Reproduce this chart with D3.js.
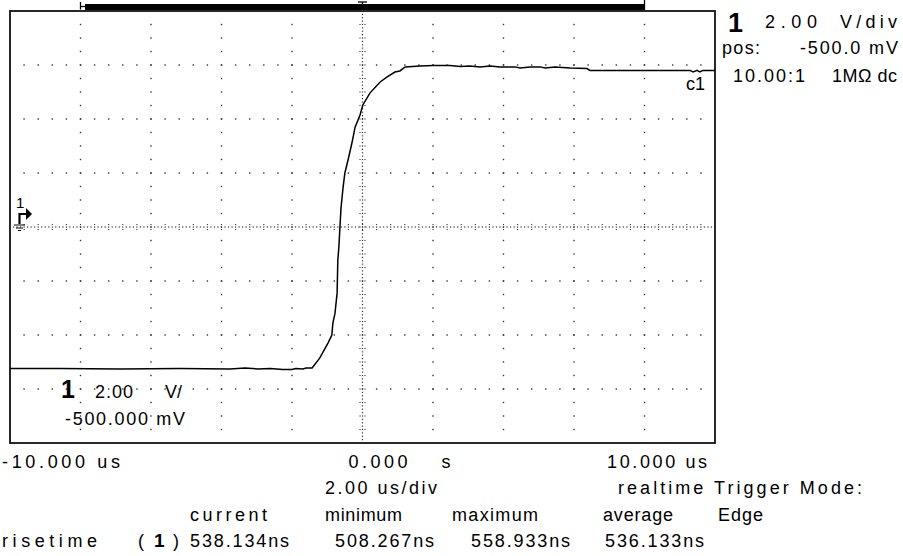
<!DOCTYPE html>
<html><head><meta charset="utf-8">
<script src="https://cdn.jsdelivr.net/npm/d3@7"></script>
<style>html,body{margin:0;padding:0;background:#fff;}svg{display:block;}</style>
</head><body>
<script>
// ---- data ----
const traceTime = [-10.00,-8.58,-6.88,-5.18,-3.76,-3.33,-2.96,-2.62,-2.26,-2.00,-1.89,-1.69,-1.60,-1.43,-1.21,-0.98,-0.87,-0.84,-0.78,-0.72,-0.70,-0.67,-0.64,-0.61,-0.55,-0.50,-0.41,-0.30,-0.21,-0.07,0.01,0.21,0.50,0.70,0.92,1.06,1.21,1.63,2.00,2.48,2.77,3.05,3.33,3.62,3.90,4.33,4.47,4.75,5.04,5.18,5.46,5.89,6.37,6.45,9.29,9.38,9.49,9.57,9.66,10.00];
const traceVolts = [-5.24,-5.24,-5.26,-5.24,-5.26,-5.22,-5.26,-5.24,-5.28,-5.28,-5.24,-5.26,-5.22,-5.22,-4.85,-4.30,-4.00,-3.56,-3.19,-2.44,-1.22,-0.74,0.00,0.70,1.48,2.00,2.48,3.11,3.70,4.15,4.52,4.96,5.37,5.56,5.74,5.78,5.93,5.96,5.98,5.98,5.94,5.96,5.93,5.96,5.93,5.93,5.89,5.93,5.93,5.89,5.93,5.89,5.87,5.80,5.80,5.74,5.80,5.74,5.80,5.80];
const timeDomain = [-10, 10];      // us
const voltDomain = [-8, 8];        // V (2.00 V/div, 8 div)
const timeTickLabels = ["-10.000 us", "0.000", "s", "10.000 us"];
const timebaseLabel = "2.00 us/div";
const acqLabel = "realtime Trigger Mode:";
const trigMode = "Edge";
const statHeaders = ["current", "minimum", "maximum", "average"];
const measName = "risetime";
const measValues = ["538.134ns", "508.267ns", "558.933ns", "536.133ns"];
const chanInfo = ["2.00", "V/div", "pos:", "-500.0 mV", "10.00:1", "1MΩ dc"];
const inPlotScale = ["2.00", "V/", "-500.000 mV"];
const traceName = "c1";

// ---- layout ----
const W = 903, H = 556;
const L = 10, R = 715, T = 11, B = 443;
const FONT = "'Liberation Sans', Arial, sans-serif";

const svg = d3.select("body").append("svg").attr("width", W).attr("height", H)
  .style("font-family", FONT);

const x = d3.scaleLinear().domain(timeDomain).range([L, R]);
const y = d3.scaleLinear().domain(voltDomain).range([B, T]);

const grid = svg.append("g").attr("fill", "#333");
const dot = (px, py, s = 1.4) => grid.append("rect").attr("x", px - s / 2).attr("y", py - s / 2).attr("width", s).attr("height", s);

const majorT = d3.range(timeDomain[0], timeDomain[1] + 0.001, 2);
const majorV = d3.range(voltDomain[0], voltDomain[1] + 0.001, 2);
const minorT = d3.range(timeDomain[0], timeDomain[1] + 0.001, 0.4);
const minorV = d3.range(voltDomain[0], voltDomain[1] + 0.001, 0.5);
const inner = (arr, d) => arr.filter(v => v > d[0] + 1e-6 && v < d[1] - 1e-6);

inner(majorV, voltDomain).filter(v => Math.abs(v) > 1e-6).forEach(v => {
  inner(minorT, timeDomain).forEach(t => dot(x(t), y(v)));
});
inner(majorT, timeDomain).filter(t => Math.abs(t) > 1e-6).forEach(t => {
  inner(minorV, voltDomain).forEach(v => dot(x(t), y(v)));
});
d3.range(timeDomain[0], timeDomain[1] + 0.001, 0.1).forEach(t => {
  if (t > timeDomain[0] + 1e-6 && t < timeDomain[1] - 1e-6) dot(x(t), y(0), 1.2);
});
inner(minorT, timeDomain).forEach(t => { dot(x(t), y(0) - 2.5, 1.1); dot(x(t), y(0) + 2.5, 1.1); });
d3.range(voltDomain[0], voltDomain[1] + 0.001, 0.125).forEach(v => {
  if (v > voltDomain[0] + 1e-6 && v < voltDomain[1] - 1e-6) dot(x(0), y(v), 1.2);
});
inner(minorV, voltDomain).forEach(v => { dot(x(0) - 2.5, y(v), 1.1); dot(x(0) + 2.5, y(v), 1.1); });

// frame
svg.append("rect").attr("x", L).attr("y", T).attr("width", R - L).attr("height", B - T)
  .attr("fill", "none").attr("stroke", "#111").attr("stroke-width", 1.8);

// top memory bar
const bar = svg.append("g").attr("stroke", "#000").attr("fill", "#000");
bar.append("rect").attr("x", x(-8) + 5).attr("y", 4.5).attr("width", x(8) - x(-8) - 5).attr("height", 5);
bar.append("line").attr("x1", x(-8)).attr("x2", x(-8)).attr("y1", 2).attr("y2", 9.5).attr("stroke-width", 1.3);
bar.append("line").attr("x1", x(-8)).attr("x2", x(-8) + 6).attr("y1", 6.5).attr("y2", 6.5).attr("stroke-width", 1.3);
bar.append("line").attr("x1", x(8)).attr("x2", x(8)).attr("y1", 0).attr("y2", 9.5).attr("stroke-width", 1.3);
bar.append("line").attr("x1", x(0) - 4.5).attr("x2", x(0) + 4.5).attr("y1", 2).attr("y2", 2).attr("stroke-width", 1.3);
bar.append("line").attr("x1", x(0)).attr("x2", x(0)).attr("y1", 2).attr("y2", 6).attr("stroke-width", 1.3);

// trace
const pts = traceTime.map((t, i) => [t, traceVolts[i]]);
svg.append("path").datum(pts)
  .attr("d", d3.line().x(d => x(d[0])).y(d => y(d[1])))
  .attr("fill", "none").attr("stroke", "#000").attr("stroke-width", 1.5);

// ground/channel marker on left
const gm = svg.append("g").attr("stroke", "#000").attr("fill", "#000");
gm.append("path").attr("d", `M19.5,${y(0) - 3} V${y(0) - 13} H26`).attr("fill", "none").attr("stroke-width", 2.2);
gm.append("path").attr("d", `M26,${y(0) - 19} L32,${y(0) - 13} L26,${y(0) - 7} Z`).attr("stroke", "none");
gm.append("path").attr("d", `M14,${y(0) - 2} H25 M16,${y(0) + 1} H23 M18,${y(0) + 3.5} H21`).attr("fill", "none").attr("stroke-width", 1.2);

// text helper: glyphs keep their shape, spacing is stretched to the measured width
function txt(s, x0, base, width, size = 18, weight = "normal", anchor = "start") {
  const t = svg.append("text").attr("x", x0).attr("y", base).attr("font-size", size)
    .attr("font-weight", weight).attr("fill", "#000").attr("text-anchor", anchor).text(s);
  if (width) t.attr("textLength", width).attr("lengthAdjust", "spacing");
  return t;
}

txt("1", 16, y(0) - 19, null, 15);

// channel info (right)
txt("1", 728, 32, null, 27, "bold");
txt(chanInfo[0], 765, 28, 52);
txt(chanInfo[1], 840, 28, 57);
txt(chanInfo[2], 722, 54, 38);
txt(chanInfo[3], 800, 54, 98);
txt(chanInfo[4], 733, 82, 72);
txt(chanInfo[5], 832, 82, 65);

// trace label
txt(traceName, 686, 90, null, 18);

// in-plot scale label
txt("1", 61, 398, null, 25, "bold");
txt(inPlotScale[0], 95, 398, 38);
txt(inPlotScale[1], 165, 398, 17);
txt(inPlotScale[2], 65, 425, 120);

// time axis labels
txt(timeTickLabels[0], x(-10) - 8, 468, 118);
txt(timeTickLabels[1], x(0) - 14, 468, 59);
txt(timeTickLabels[2], x(0) + 79, 468, null);
txt(timeTickLabels[3], x(10) - 108, 468, 100);

txt(timebaseLabel, 325, 494, 112);
txt(acqLabel, 618, 494, 244);

// stats
const headX = [[190, 77], [325, 77], [452, 86], [603, 70]];
statHeaders.forEach((h, i) => txt(h, headX[i][0], 521, headX[i][1]));
txt(trigMode, 718, 521, 45);

txt(measName, 2, 547, 95);
txt("(", 138, 547, null);
txt("1", 154, 547, null, 19, "bold");
txt(")", 173, 547, null);
const valX = [190, 335, 471, 605];
measValues.forEach((v, i) => txt(v, valX[i], 547, 99));
</script>
</body></html>
